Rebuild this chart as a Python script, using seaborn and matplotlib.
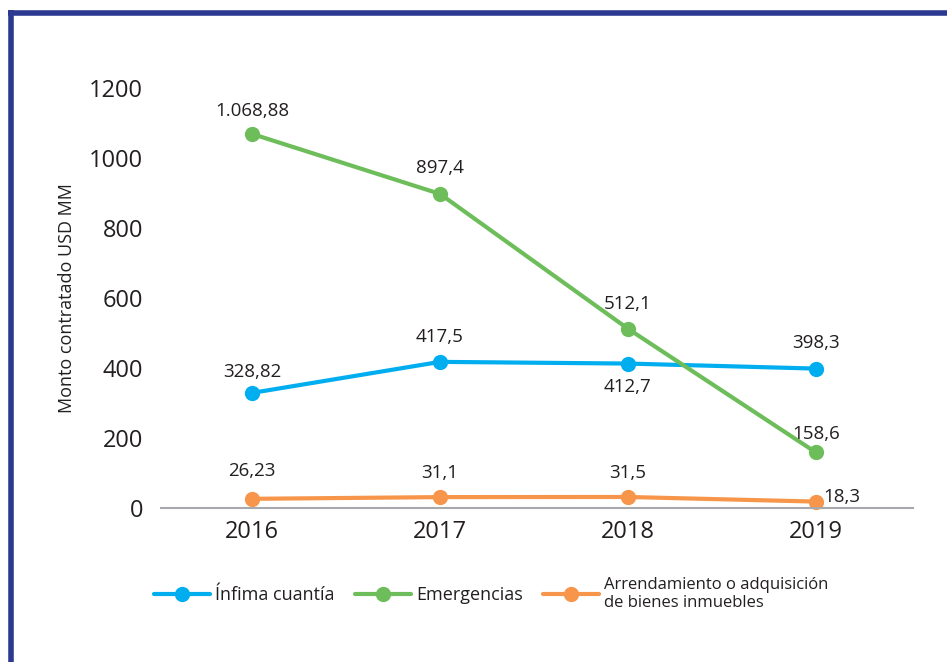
import pandas as pd
import seaborn as sns
import matplotlib.pyplot as plt
from matplotlib.lines import Line2D

# datos del grafico
anios = [2016, 2017, 2018, 2019]
infima = [328.82, 417.5, 412.7, 398.3]
emergencias = [1068.88, 897.4, 512.1, 158.6]
arrendamiento = [26.23, 31.1, 31.5, 18.3]

etiquetas_infima = ['328,82', '417,5', '412,7', '398,3']
etiquetas_emerg = ['1.068,88', '897,4', '512,1', '158,6']
etiquetas_arr = ['26,23', '31,1', '31,5', '18,3']

series = ['Ínfima cuantía', 'Emergencias',
          'Arrendamiento o adquisición\nde bienes inmuebles']
colores = ['#00AEEF', '#6DBE5A', '#F7964A']

df = pd.DataFrame({
    'anio': anios * 3,
    'monto': infima + emergencias + arrendamiento,
    'serie': [series[0]] * 4 + [series[1]] * 4 + [series[2]] * 4,
})

sns.set_style('white')
plt.rcParams['font.family'] = ['Open Sans', 'DejaVu Sans']
texto = '#231F20'

fig = plt.figure(figsize=(9.47, 6.62), dpi=100)
ax = fig.add_axes([161 / 947, 1 - 508 / 662, 752 / 947, 420 / 662])

sns.lineplot(data=df, x='anio', y='monto', hue='serie', palette=colores,
             marker='o', markersize=11, markeredgewidth=0, linewidth=3,
             legend=False, ax=ax, clip_on=False)

ax.set_xlim(2015.516, 2019.516)
ax.set_ylim(0, 1200)
ax.set_xticks(anios)
ax.set_yticks(range(0, 1201, 200))
ax.tick_params(axis='both', length=0, labelsize=17, colors=texto)
ax.tick_params(axis='x', pad=9)
ax.tick_params(axis='y', pad=13)
for s in ['top', 'right', 'left']:
    ax.spines[s].set_visible(False)
ax.spines['bottom'].set_color('#A7A9AC')
ax.spines['bottom'].set_linewidth(1.5)
ax.set_xlabel('')
ax.set_ylabel('Monto contratado USD MM', fontsize=13, color=texto, labelpad=9)

# etiquetas de valores (desplazamiento en puntos, linea base del texto)
def etiquetas(ys, textos, offs):
    for x, y, t, (dx, dy) in zip(anios, ys, textos, offs):
        ax.annotate(t, (x, y), xytext=(dx, dy), textcoords='offset points',
                    ha='center' if dx == 0 else 'left', va='baseline',
                    fontsize=13.5, color=texto)

etiquetas(emergencias, etiquetas_emerg, [(0, 13), (0, 15), (0, 14.5), (0, 10)])
etiquetas(infima, etiquetas_infima, [(0, 11.5), (0, 14.5), (0, -20.5), (0, 15)])
etiquetas(arrendamiento, etiquetas_arr, [(0, 16.5), (0, 14), (0, 14), (5.5, 0)])

# leyenda
handles = [Line2D([0], [0], color=c, lw=3, marker='o', markersize=11,
                  markeredgewidth=0) for c in colores]
leg = fig.legend(handles, series, ncol=3, loc='center left',
                 bbox_to_anchor=(145 / 947, 1 - 594 / 662), frameon=False,
                 fontsize=13, handlelength=3.1, handletextpad=0.3,
                 columnspacing=1.1, borderpad=0)
leg.get_texts()[2].set_fontsize(12)
for t in leg.get_texts():
    t.set_color(texto)

# marco azul
fig.add_artist(Line2D([8 / 947, 1], [1 - 12.5 / 662] * 2, color='#2B3990',
                      lw=4, solid_capstyle='butt'))
fig.add_artist(Line2D([10.5 / 947] * 2, [0, 1 - 10 / 662], color='#2B3990',
                      lw=4, solid_capstyle='butt'))

fig.savefig('out.png', dpi=100)
